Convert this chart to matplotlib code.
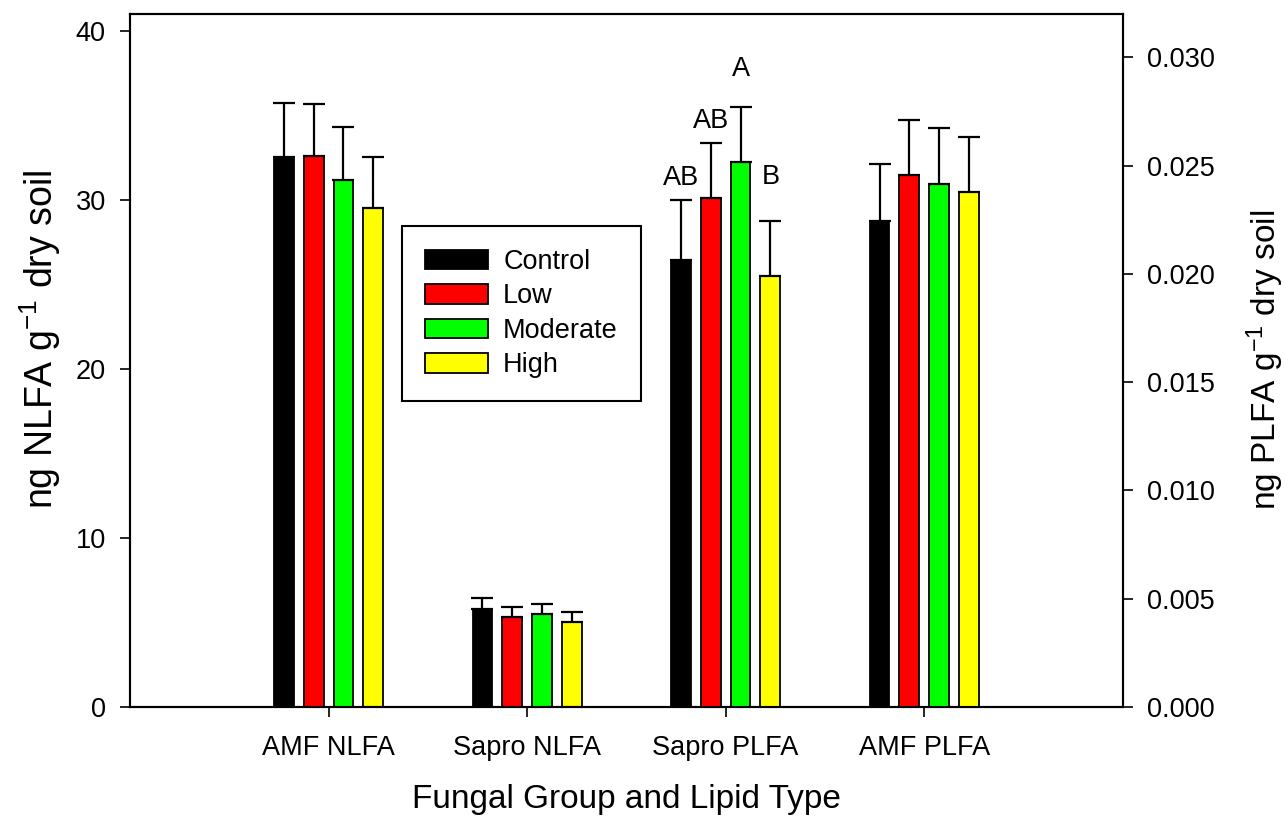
import matplotlib
matplotlib.use('Agg')
import matplotlib.pyplot as plt
import numpy as np

plt.rcParams['font.family'] = ['Liberation Sans', 'DejaVu Sans']
plt.rcParams['mathtext.default'] = 'regular'

groups = ['AMF NLFA', 'Sapro NLFA', 'Sapro PLFA', 'AMF PLFA']
treatments = ['Control', 'Low', 'Moderate', 'High']
colors = ['#000000', '#ff0000', '#00ff00', '#ffff00']

# NLFA groups (left axis, ng g-1)
amf_nlfa = [32.55, 32.6, 31.2, 29.5]
amf_nlfa_se = [3.2, 3.05, 3.1, 3.05]
sapro_nlfa = [5.8, 5.3, 5.5, 5.0]
sapro_nlfa_se = [0.65, 0.6, 0.6, 0.6]

# PLFA groups (right axis)
sapro_plfa = [0.02066, 0.02351, 0.02515, 0.01989]
sapro_plfa_se = [0.00274, 0.00255, 0.00254, 0.00254]
amf_plfa = [0.02246, 0.02455, 0.02415, 0.02377]
amf_plfa_se = [0.00262, 0.00256, 0.00257, 0.00255]

# significance letters over Sapro PLFA
letters = ['AB', 'AB', 'A', 'B']
letter_y = [0.02443, 0.02706, 0.02948, 0.02445]

fig = plt.figure(figsize=(12.85, 8.21), dpi=100)
ax = fig.add_axes([0.1012, 0.1389, 0.7725, 0.8441])
ax2 = ax.twinx()

x = np.arange(1, 5)
width = 0.1
offsets = np.array([-0.225, -0.075, 0.075, 0.225])
err_kw = dict(ecolor='black', elinewidth=1.6, capsize=8, capthick=1.6)

left_means = [amf_nlfa, sapro_nlfa]
left_se = [amf_nlfa_se, sapro_nlfa_se]
right_means = [sapro_plfa, amf_plfa]
right_se = [sapro_plfa_se, amf_plfa_se]

handles = []
for i, t in enumerate(treatments):
    m = [left_means[0][i], left_means[1][i]]
    e = [left_se[0][i], left_se[1][i]]
    b = ax.bar(x[:2] + offsets[i], m, width, color=colors[i], edgecolor='black',
               linewidth=1.3, yerr=[np.zeros(2), e], error_kw=err_kw, label=t, zorder=2)
    handles.append(b)
    m = [right_means[0][i], right_means[1][i]]
    e = [right_se[0][i], right_se[1][i]]
    ax2.bar(x[2:] + offsets[i], m, width, color=colors[i], edgecolor='black',
            linewidth=1.3, yerr=[np.zeros(2), e], error_kw=err_kw, zorder=2)

for i, s in enumerate(letters):
    ax2.text(x[2] + offsets[i], letter_y[i], s, ha='center', va='center', fontsize=19.5)

ax.set_xlim(0, 5)
ax.set_ylim(0, 41)
ax2.set_ylim(0, 0.032)
ax.set_yticks([0, 10, 20, 30, 40])
ax2.set_yticks([0, 0.005, 0.010, 0.015, 0.020, 0.025, 0.030])
ax2.set_yticklabels(['%.3f' % v for v in ax2.get_yticks()])
ax.set_xticks(x)
ax.set_xticklabels(groups)

for a in (ax, ax2):
    for sp in a.spines.values():
        sp.set_linewidth(1.5)
    a.tick_params(direction='out', length=7.5, width=1.2, labelsize=19.5, pad=10)
ax.tick_params(axis='x', pad=13)

ax.set_xlabel('Fungal Group and Lipid Type', fontsize=24, va='center')
ax.xaxis.set_label_coords(0.5, -0.134)
ax.set_ylabel('ng NLFA g$^{-1}$ dry soil', fontsize=27, va='center', ha='center')
ax.yaxis.set_label_coords(-0.0907, 0.531)
ax2.set_ylabel('ng PLFA g$^{-1}$ dry soil', fontsize=24, va='center', ha='center', rotation=90)
ax2.yaxis.set_label_coords(1.1433, 0.5007)

leg = ax2.legend(handles=handles, labels=treatments, loc='upper left',
                 bbox_to_anchor=(0.3128, 0.7247), bbox_transform=fig.transFigure,
                 borderaxespad=0, fontsize=19.5, handlelength=2.33, handleheight=0.74,
                 handletextpad=0.56, labelspacing=0.31, borderpad=0.85,
                 fancybox=False, framealpha=1, edgecolor='black')
leg.get_frame().set_linewidth(1.5)
for h in leg.legend_handles:
    h.set_edgecolor('black')
    h.set_linewidth(1.3)

fig.savefig('out.png', dpi=100)
